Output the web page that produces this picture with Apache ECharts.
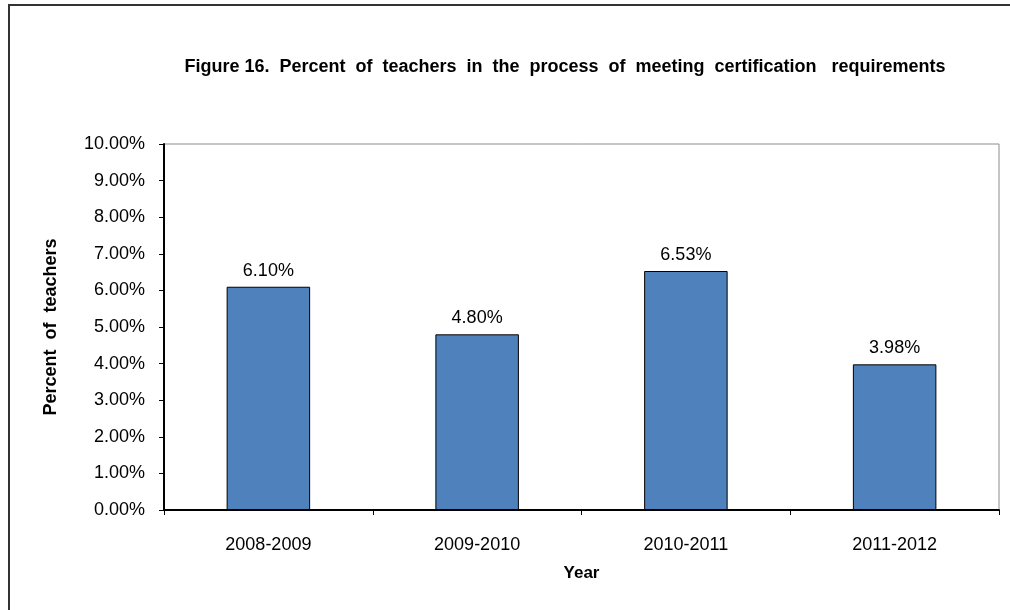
<!DOCTYPE html>
<html>
<head>
<meta charset="utf-8">
<script src="https://cdn.jsdelivr.net/npm/echarts@6/dist/echarts.min.js"></script>
<style>
  html, body { margin: 0; padding: 0; background: #fff; }
  #chart { width: 1010px; height: 610px; }
</style>
</head>
<body>
<div id="chart"></div>
<script>
// School years shown along the horizontal axis
const years = ['2008-2009', '2009-2010', '2010-2011', '2011-2012'];
// Percent of teachers still meeting certification requirements
const percents = [6.10, 4.80, 6.53, 3.98];

const chart = echarts.init(document.getElementById('chart'));
const FONT = 'Liberation Sans, Arial, sans-serif';
const pct = v => Number(v).toFixed(2) + '%';

chart.setOption({
  animation: false,
  backgroundColor: '#fff',
  textStyle: { fontFamily: FONT },
  title: {
    text: 'Figure 16.  Percent  of  teachers  in  the  process  of  meeting  certification   requirements',
    left: 560,
    textAlign: 'center',
    top: 53,
    textStyle: { fontFamily: FONT, fontSize: 18, fontWeight: 'bold', color: '#000' }
  },
  graphic: [{
    type: 'rect',
    shape: { x: 9, y: 5, width: 1100, height: 700 },
    style: { fill: 'none', stroke: '#333', lineWidth: 2 },
    silent: true
  }],
  grid: {
    left: 164, right: 11, top: 144, bottom: 100,
    show: true, borderColor: '#8c8c8c', borderWidth: 1, backgroundColor: '#fff'
  },
  xAxis: {
    type: 'category',
    data: years,
    name: 'Year',
    nameLocation: 'middle',
    nameGap: 55,
    nameTextStyle: { fontFamily: FONT, fontSize: 17, fontWeight: 'bold', color: '#000' },
    axisLine: { lineStyle: { color: '#000', width: 2 } },
    axisTick: { show: true, length: 5, lineStyle: { color: '#000', width: 1 } },
    axisLabel: { fontFamily: FONT, fontSize: 18, color: '#000', margin: 26 }
  },
  yAxis: {
    type: 'value',
    min: 0, max: 10, interval: 1,
    name: 'Percent  of  teachers',
    nameLocation: 'middle',
    nameGap: 104,
    nameRotate: 90,
    nameTextStyle: { fontFamily: FONT, fontSize: 18, fontWeight: 'bold', color: '#000' },
    axisLine: { show: true, lineStyle: { color: '#000', width: 2 } },
    axisTick: { show: true, length: 5, lineStyle: { color: '#000', width: 1 } },
    splitLine: { show: false },
    axisLabel: { fontFamily: FONT, fontSize: 18, color: '#000', margin: 19, formatter: pct }
  },
  series: [{
    type: 'bar',
    data: percents,
    barWidth: '40%',
    itemStyle: { color: '#4f81bd', borderColor: '#000', borderWidth: 1 },
    label: {
      show: true, position: 'top', distance: 7,
      fontFamily: FONT, fontSize: 18, color: '#000',
      formatter: p => pct(p.value)
    }
  }]
});
</script>
</body>
</html>
